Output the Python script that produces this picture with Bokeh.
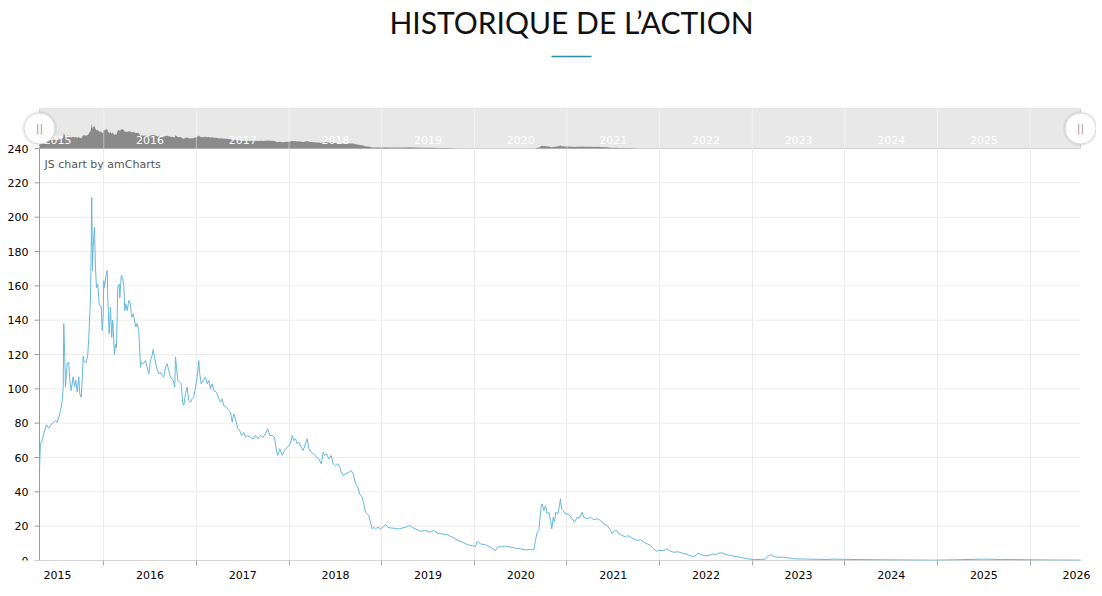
import numpy as np
from bokeh.plotting import figure
from bokeh.layouts import column
from bokeh.models import Range1d, FixedTicker
from bokeh.core.properties import value
from bokeh.embed import file_html
from bokeh.resources import INLINE

TITLE = "HISTORIQUE DE L’ACTION"
WATERMARK = "JS chart by amCharts"
YEARS = list(range(2015, 2027))
YEAR_LABELS = [str(y) for y in YEARS]
GRID_YEARS = [y + 0.5 for y in YEARS[:-1]]
Y_TICKS = list(range(0, 241, 20))
Y_LABELS = [str(v) for v in Y_TICKS]

DATES = [
    2014.806, 2014.816, 2014.835, 2014.852, 2014.881, 2014.906, 2014.943, 2014.978, 2014.997, 2015.014,
    2015.032, 2015.051, 2015.062, 2015.068, 2015.079, 2015.086, 2015.105, 2015.122, 2015.133, 2015.148,
    2015.169, 2015.184, 2015.198, 2015.213, 2015.230, 2015.241, 2015.256, 2015.267, 2015.277, 2015.291,
    2015.313, 2015.327, 2015.338, 2015.349, 2015.356, 2015.364, 2015.370, 2015.378, 2015.385, 2015.399,
    2015.410, 2015.421, 2015.435, 2015.450, 2015.472, 2015.483, 2015.493, 2015.500, 2015.507, 2015.521,
    2015.537, 2015.543, 2015.558, 2015.572, 2015.586, 2015.597, 2015.615, 2015.626, 2015.637, 2015.651,
    2015.666, 2015.673, 2015.688, 2015.702, 2015.716, 2015.727, 2015.737, 2015.752, 2015.770, 2015.788,
    2015.799, 2015.817, 2015.831, 2015.845, 2015.860, 2015.878, 2015.896, 2015.907, 2015.925, 2015.950,
    2015.968, 2015.986, 2016.004, 2016.022, 2016.033, 2016.047, 2016.069, 2016.094, 2016.112, 2016.130,
    2016.147, 2016.166, 2016.184, 2016.201, 2016.220, 2016.249, 2016.266, 2016.274, 2016.285, 2016.299,
    2016.317, 2016.335, 2016.353, 2016.363, 2016.382, 2016.400, 2016.417, 2016.436, 2016.454, 2016.471,
    2016.490, 2016.508, 2016.525, 2016.536, 2016.551, 2016.573, 2016.598, 2016.616, 2016.633, 2016.652,
    2016.670, 2016.687, 2016.716, 2016.741, 2016.760, 2016.778, 2016.795, 2016.824, 2016.849, 2016.868,
    2016.886, 2016.903, 2016.922, 2016.946, 2016.968, 2016.986, 2017.011, 2017.029, 2017.048, 2017.083,
    2017.113, 2017.137, 2017.162, 2017.191, 2017.221, 2017.245, 2017.270, 2017.292, 2017.318, 2017.343,
    2017.364, 2017.378, 2017.400, 2017.426, 2017.450, 2017.480, 2017.515, 2017.534, 2017.551, 2017.569,
    2017.588, 2017.605, 2017.631, 2017.652, 2017.677, 2017.696, 2017.713, 2017.739, 2017.767, 2017.796,
    2017.821, 2017.847, 2017.868, 2017.882, 2017.904, 2017.929, 2017.955, 2017.976, 2018.001, 2018.026,
    2018.047, 2018.063, 2018.084, 2018.109, 2018.145, 2018.170, 2018.192, 2018.217, 2018.242, 2018.263,
    2018.289, 2018.306, 2018.325, 2018.343, 2018.360, 2018.379, 2018.397, 2018.414, 2018.433, 2018.458,
    2018.487, 2018.516, 2018.541, 2018.566, 2018.595, 2018.630, 2018.684, 2018.757, 2018.803, 2018.846,
    2018.919, 2018.973, 2019.027, 2019.062, 2019.099, 2019.153, 2019.207, 2019.261, 2019.315, 2019.369,
    2019.423, 2019.477, 2019.512, 2019.531, 2019.566, 2019.620, 2019.674, 2019.728, 2019.753, 2019.782,
    2019.836, 2019.890, 2019.944, 2019.998, 2020.052, 2020.106, 2020.142, 2020.160, 2020.178, 2020.196,
    2020.206, 2020.222, 2020.232, 2020.250, 2020.268, 2020.286, 2020.304, 2020.322, 2020.336, 2020.351,
    2020.365, 2020.379, 2020.401, 2020.416, 2020.430, 2020.441, 2020.459, 2020.484, 2020.520, 2020.556,
    2020.581, 2020.610, 2020.638, 2020.664, 2020.681, 2020.718, 2020.754, 2020.789, 2020.826, 2020.862,
    2020.897, 2020.934, 2020.970, 2020.988, 2021.005, 2021.034, 2021.059, 2021.096, 2021.132, 2021.150,
    2021.186, 2021.221, 2021.258, 2021.294, 2021.329, 2021.366, 2021.402, 2021.437, 2021.466, 2021.491,
    2021.545, 2021.582, 2021.617, 2021.653, 2021.696, 2021.744, 2021.798, 2021.852, 2021.887, 2021.912,
    2021.949, 2021.995, 2022.031, 2022.068, 2022.103, 2022.139, 2022.176, 2022.211, 2022.265, 2022.319,
    2022.373, 2022.445, 2022.517, 2022.589, 2022.643, 2022.678, 2022.704, 2022.732, 2022.786, 2022.840,
    2022.894, 2022.948, 2023.093, 2023.309, 2023.380, 2023.560, 2023.920, 2024.460, 2024.676, 2024.999,
    2025.180, 2025.536, 2026.043,
]

PRICES = [
    53, 68, 70, 74, 79, 77, 80, 81.5, 80.5, 83.5,
    87, 93, 101, 138, 118, 101, 115, 115.5, 105, 99,
    107, 101, 105, 98, 107, 97, 95, 105, 119, 115.5,
    115.5, 120, 130, 143.7, 151.5, 182.5, 211.6, 169, 182.5, 194,
    171, 159, 161, 149.5, 147.6, 134, 141.7, 163, 159, 165,
    169, 153, 132, 147.6, 130, 140, 120, 126, 124, 159,
    161, 153, 166, 165, 160, 145.6, 149.5, 145.6, 151.5, 149.5,
    141.7, 143.7, 140, 136, 138, 134, 112.6, 115.5, 114.6, 116.5,
    112.6, 108.7, 116.5, 119.4, 123, 118.5, 112.6, 108.7, 109.7, 107.8,
    106.8, 112.6, 114.6, 110.7, 106.8, 104.9, 101, 118.5, 112.6, 104.9,
    103.9, 102.9, 91.3, 90.3, 97.1, 101, 93.2, 92.2, 94.2, 95.1,
    101, 106.8, 116.5, 108.7, 102.9, 104.9, 106.8, 102.9, 104.9, 100,
    102.9, 99, 98.1, 94.2, 92.2, 94.2, 90.3, 89.3, 87.4, 86.4,
    80.6, 85.4, 82.5, 76.7, 75.7, 72.8, 74.7, 71.8, 72.8, 71.8,
    70.9, 72.8, 70.9, 72.8, 71.8, 73.8, 76.7, 72.8, 72.8, 71.8,
    64.1, 61.2, 65.1, 61.2, 64.1, 66, 68, 72.8, 69.9, 70.9,
    68, 68.9, 66, 64.1, 68, 70.9, 65.1, 63.1, 62.1, 60.2,
    59.2, 56.3, 63.1, 61.2, 62.1, 59.2, 61.2, 56.3, 55.3, 56.3,
    54.4, 51.4, 49.5, 50.5, 51.4, 52.4, 50.5, 44.7, 42.7, 38.8,
    36.9, 33, 28.2, 27.2, 26.2, 22.3, 18.4, 19.4, 18.4, 19.4,
    18.4, 19.4, 21, 19.4, 19, 18.8, 18.4, 19.4, 20.4, 18.8,
    17.1, 17.5, 16.5, 17.5, 16, 15.5, 15, 13.6, 12, 10.7,
    9.3, 8.5, 8.2, 11.1, 9.7, 9.1, 7.8, 5.8, 7.8, 8.2,
    8.4, 7.8, 7.2, 6.8, 6.2, 6.4, 6.2, 11.6, 16.5, 17.5,
    23.3, 32, 33, 29.1, 32, 27.2, 28.2, 23.3, 18.4, 25.2,
    22.3, 28.2, 27.2, 31, 35.9, 30.1, 29.1, 27.2, 26.8, 24.3,
    22.3, 25.2, 24.9, 28.2, 25.2, 24.3, 25.2, 23.7, 24.3, 23.3,
    21.4, 20.4, 17.5, 15.5, 17.1, 17.5, 15.5, 14.6, 13.6, 14.6,
    13.6, 12.6, 11.7, 12, 10.7, 9.7, 8.7, 6.8, 5.4, 5.8,
    5.8, 6.8, 5.4, 4.8, 5.1, 4.3, 3.5, 2.3, 2.7, 4.3,
    3.5, 2.7, 2.9, 3.9, 3.3, 4.3, 4.5, 3.5, 2.9, 2.3,
    1.9, 1.0, 0.6, 0.6, 0.8, 2.9, 3.3, 2.3, 1.9, 1.9,
    1.5, 1.0, 0.8, 0.6, 0.8, 0.6, 0.4, 0.2, 0.4, 0.8,
    0.6, 0.4, 0.2,
]

# ---- layout / style constants ----
LINE_COLOR = "#67b7dc"
FONT = "DejaVu Sans"
AXIS_COLOR = "#aaaaaa"
GRID_COLOR = "#ececec"
Y_MAX = 240
PLOT_PX = 412          # height of the value area
BAND_PX = 40           # height of the scrollbar band above it
AREA_PX = 1041         # width of the value area
LEFT_PX, RIGHT_PX = 39, 16   # room left/right of the value area inside the frame
MINI_LO, MINI_HI = 11, 335   # value window shown in the scrollbar graph

y_end = Y_MAX * (PLOT_PX + BAND_PX) / PLOT_PX
mini_start = MINI_LO - (MINI_HI - MINI_LO) * PLOT_PX / BAND_PX
ppy = AREA_PX / (DATES[-1] - DATES[0])      # pixels per year
x0, x1 = DATES[0], DATES[-1]

# ---- header (title + underline) ----
head = figure(width=1096, height=108, x_range=Range1d(0, 1096), y_range=Range1d(108, 0),
              toolbar_location=None, output_backend="svg", min_border=0,
              x_axis_location=None, y_axis_location=None, outline_line_color=None)
head.grid.visible = False
head.text(x=[571], y=[21], text=[TITLE], text_font=value("Lato"), text_font_size="30px",
          text_align="center", text_baseline="alphabetic", text_color="#111111")
head.segment(x0=[551], y0=[56], x1=[591], y1=[56], line_color="#2a8db0", line_width=1.5)

# ---- main chart (with scrollbar band on top) ----
p = figure(width=1096, height=482,
           x_range=Range1d(x0 - LEFT_PX / ppy, x1 + RIGHT_PX / ppy), y_range=Range1d(0, y_end),
           toolbar_location=None, output_backend="svg",
           min_border_left=0, min_border_right=0, min_border_top=0, min_border_bottom=30,
           y_axis_location=None, outline_line_color=None)
p.extra_y_ranges = {"mini": Range1d(mini_start, MINI_HI)}

p.xaxis.ticker = FixedTicker(ticks=YEARS, minor_ticks=GRID_YEARS)
p.xaxis.major_label_overrides = {y: s for y, s in zip(YEARS, YEAR_LABELS)}
p.xaxis.major_tick_line_color = None
p.xaxis.major_tick_out = 0
p.xaxis.major_tick_in = 0
p.xaxis.minor_tick_out = 5
p.xaxis.minor_tick_in = 0
p.xaxis.minor_tick_line_color = AXIS_COLOR
p.xaxis.major_label_standoff = 5
p.xaxis.axis_line_color = None
p.xaxis.major_label_text_font = FONT
p.xaxis.major_label_text_font_size = "11px"
p.xaxis.major_label_text_color = "#000000"

p.xgrid.ticker = FixedTicker(ticks=GRID_YEARS)
p.xgrid.grid_line_color = GRID_COLOR
p.ygrid.visible = False

# horizontal grid lines, y axis (line, ticks, labels) and x axis line
p.segment(x0=x0, y0=Y_TICKS[1:], x1=x1, y1=Y_TICKS[1:], line_color=GRID_COLOR, line_width=1)
p.segment(x0=x0 - 5 / ppy, y0=Y_TICKS, x1=x0, y1=Y_TICKS, line_color="#999999", line_width=1)
p.segment(x0=[x0], y0=[0], x1=[x0], y1=[Y_MAX], line_color="#999999", line_width=1)
p.segment(x0=[x0], y0=[0], x1=[x1], y1=[0], line_color=AXIS_COLOR, line_width=1)
p.text(x=x0, y=Y_TICKS, text=Y_LABELS, x_offset=-11, text_font=value(FONT), text_font_size="11px",
       text_color="#000000", text_align="right", text_baseline="middle")

# scrollbar band
p.quad(left=[x0], right=[x1], bottom=[Y_MAX], top=[y_end],
       fill_color="#e8e8e8", line_color="#d2d2d2", line_width=1)
p.varea(x=DATES, y1=MINI_LO, y2=np.maximum(np.array(PRICES), MINI_LO),
        fill_color="#8a8a8a", y_range_name="mini")
p.segment(x0=GRID_YEARS, y0=Y_MAX, x1=GRID_YEARS, y1=y_end, line_color="white", line_alpha=0.45)
band_label_y = Y_MAX + (y_end - Y_MAX) * 9 / BAND_PX
p.text(x=YEARS[:-1], y=band_label_y, text=YEAR_LABELS[:-1], text_font=value(FONT),
       text_font_size="11px", text_color="white", text_align="center", text_baseline="middle")

# price line
p.line(DATES, PRICES, line_color=LINE_COLOR, line_width=1)

p.text(x=[x0], y=[Y_MAX], text=[WATERMARK], x_offset=5, y_offset=9,
       text_font=value(FONT), text_font_size="11px", text_color="#555555",
       text_align="left", text_baseline="top")

# scrollbar handles
band_mid = (Y_MAX + y_end) / 2
hx = [x0, x1]
p.scatter(x=hx, y=band_mid, marker="circle", size=35, fill_color="#000000", fill_alpha=0.06,
          line_color=None)
p.scatter(x=hx, y=band_mid, marker="circle", size=31, fill_color="white",
          line_color="#d8d8d8", line_width=1)
p.text(x=hx, y=band_mid, text=["||", "||"], text_font=value(FONT), text_font_size="11px",
       text_color="#9a9a9a", text_align="center", text_baseline="middle")

layout = column(head, p, spacing=0)
open("out.html", "w").write(file_html(layout, INLINE))
